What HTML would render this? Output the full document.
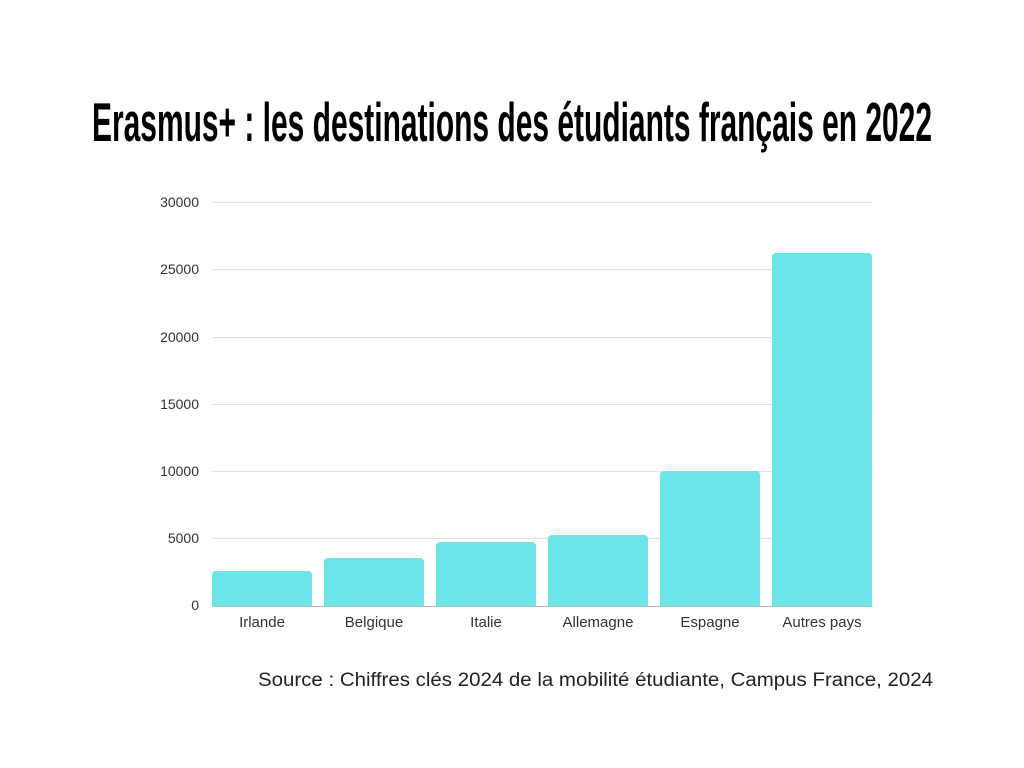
<!DOCTYPE html>
<html><head><meta charset="utf-8"><style>html,body{margin:0;padding:0;background:#fff}svg{display:block}</style></head>
<body>
<svg width="1024" height="768" viewBox="0 0 1024 768" xmlns="http://www.w3.org/2000/svg">
<rect width="1024" height="768" fill="#fff"/>
<text x="92" y="141" font-family="'Liberation Sans Narrow','Liberation Sans',sans-serif" font-weight="bold" font-size="55" textLength="840" lengthAdjust="spacingAndGlyphs" fill="#000">Erasmus+ : les destinations des étudiants français en 2022</text>
<g stroke="#e0e0e0" stroke-width="1">
<line x1="212" y1="202.5" x2="873" y2="202.5"/>
<line x1="212" y1="269.5" x2="873" y2="269.5"/>
<line x1="212" y1="337.5" x2="873" y2="337.5"/>
<line x1="212" y1="404.5" x2="873" y2="404.5"/>
<line x1="212" y1="471.5" x2="873" y2="471.5"/>
<line x1="212" y1="538.5" x2="873" y2="538.5"/>
</g>
<g font-family="'Liberation Sans',sans-serif" font-size="14" fill="#333" text-anchor="end">
<text x="199" y="207">30000</text>
<text x="199" y="274">25000</text>
<text x="199" y="342">20000</text>
<text x="199" y="409">15000</text>
<text x="199" y="476">10000</text>
<text x="199" y="543">5000</text>
<text x="199" y="610">0</text>
</g>
<g fill="#6ce5e8">
<path d="M212 606V575a4 4 0 0 1 4-4h92a4 4 0 0 1 4 4V606z"/>
<path d="M324 606V562a4 4 0 0 1 4-4h92a4 4 0 0 1 4 4V606z"/>
<path d="M436 606V546a4 4 0 0 1 4-4h92a4 4 0 0 1 4 4V606z"/>
<path d="M548 606V539a4 4 0 0 1 4-4h92a4 4 0 0 1 4 4V606z"/>
<path d="M660 606V475a4 4 0 0 1 4-4h92a4 4 0 0 1 4 4V606z"/>
<path d="M772 606V257a4 4 0 0 1 4-4h92a4 4 0 0 1 4 4V606z"/>
</g>
<line x1="212" y1="606.5" x2="873" y2="606.5" stroke="#bbb"/>
<g font-family="'Liberation Sans',sans-serif" font-size="15" fill="#333" text-anchor="middle">
<text x="262" y="627">Irlande</text>
<text x="374" y="627">Belgique</text>
<text x="486" y="627">Italie</text>
<text x="598" y="627">Allemagne</text>
<text x="710" y="627">Espagne</text>
<text x="822" y="627">Autres pays</text>
</g>
<text x="933" y="686" font-family="'Liberation Sans',sans-serif" font-size="19" fill="#222" text-anchor="end" textLength="675" lengthAdjust="spacingAndGlyphs">Source : Chiffres clés 2024 de la mobilité étudiante, Campus France, 2024</text>
</svg>
</body></html>
